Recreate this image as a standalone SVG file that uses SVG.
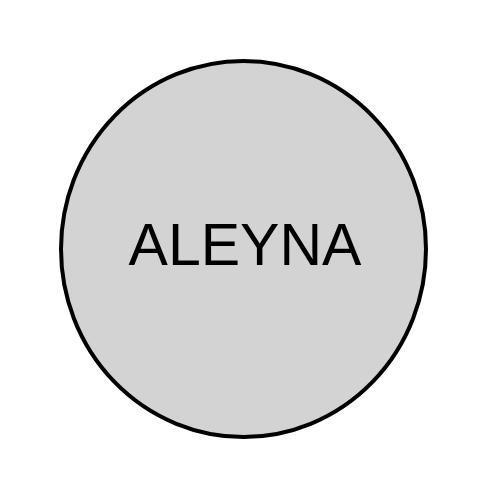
<svg xmlns="http://www.w3.org/2000/svg" width="500" height="500" viewBox="0 0 500 500">
<style>
.node{fill:#d3d3d3;stroke:#000;stroke-width:4}
.label{font-family:"Liberation Sans",Arial,sans-serif;font-size:59px;fill:#000;text-anchor:middle}
</style>
<rect width="500" height="500" fill="#fff"/>
<g id="node-aleyna">
<ellipse class="node" cx="243.5" cy="249" rx="182.5" ry="188"/>
<text class="label" x="245" y="265.3">ALEYNA</text>
</g>
<g id="connectors"></g>
</svg>
